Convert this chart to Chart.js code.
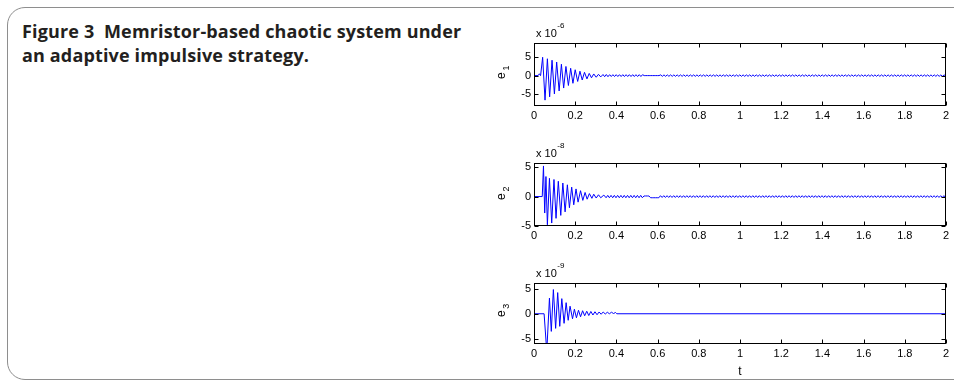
<!DOCTYPE html>
<html><head><meta charset="utf-8">
<script src="https://cdn.jsdelivr.net/npm/chart.js@4/dist/chart.umd.min.js"></script>
<style>
html,body{margin:0;padding:0;background:#fff;width:954px;height:386px;overflow:hidden;}
body{position:relative;}
#frame{position:absolute;left:7px;top:7px;width:1000px;height:373px;border:1.5px solid #8e8e8e;border-radius:18px;box-sizing:border-box;}
#cap{position:absolute;left:22px;top:19px;font:700 18px 'Open Sans';letter-spacing:0.15px;line-height:24px;color:#231f20;white-space:nowrap;}
canvas{position:absolute;}
</style></head>
<body>
<div id="frame"></div>
<div id="cap">Figure 3&nbsp;&nbsp;Memristor-based chaotic system under<br>an adaptive impulsive strategy.</div>
<canvas id="c1" width="464" height="110" style="left:490px;top:20px"></canvas>
<canvas id="c2" width="464" height="110" style="left:490px;top:140px"></canvas>
<canvas id="c3" width="464" height="126" style="left:490px;top:260px"></canvas>
<script>
// ---- data ----
const xTicks=[0,0.2,0.4,0.6,0.8,1,1.2,1.4,1.6,1.8,2];
const xTickLabels=['0','0.2','0.4','0.6','0.8','1','1.2','1.4','1.6','1.8','2'];
const yTicks=[-5,0,5];
const yTickLabels=['-5','0','5'];

// e1 (x 1e-6): turning points of the transient
const e1T=[0,0.020,0.026,0.032,0.042,0.0535,0.065,0.076,0.0876,0.099,0.110,0.122,0.133,0.144,
0.155,0.167,0.178,0.189,0.200,0.212,0.223,0.234,0.245,0.257,0.268,0.279,0.290,0.302,0.313,0.324,0.335];
const e1V=[0,0,0.5,0,5.0,-6.7,4.6,-5.8,4.2,-5.0,3.7,-4.2,3.1,-3.4,
2.5,-2.7,2.0,-2.1,1.6,-1.6,1.2,-1.2,0.9,-0.9,0.6,-0.6,0.45,-0.45,0.35,-0.35,0.3];
// e1 residual ripple, sampled every 0.008 from t=0.343
const e1TailStart=0.343, e1TailStep=0.008;
const e1Tail=[-.3,.3,-.3,.25,-.25,.25,-.25,.25,-.25,.25,-.25,.25,-.25,.25,-.25,.25,-.25,.25,-.25,.25,-.25,.25,-.25,.25,
0,0,0,0,0,0,0,0,0,0,
.2,-.2,.2,-.2,.2,-.2,.2,-.2,.2,-.2,.2,-.2,.2,-.2,.2,-.2,.2,-.2,.2,-.2,
.2,-.2,.2,-.2,.2,-.2,.2,-.2,.2,-.2,.2,-.2,.2,-.2,.2,-.2,.2,-.2,.2,-.2,
.2,-.2,.2,-.2,.2,-.2,.2,-.2,.2,-.2,.2,-.2,.2,-.2,.2,-.2,.2,-.2,.2,-.2,
.2,-.2,.2,-.2,.2,-.2,.2,-.2,.2,-.2,.2,-.2,.2,-.2,.2,-.2,.2,-.2,.2,-.2,
.2,-.2,.2,-.2,.2,-.2,.2,-.2,.2,-.2,.2,-.2,.2,-.2,.2,-.2,.2,-.2,.2,-.2,
.2,-.2,.2,-.2,.2,-.2,.2,-.2,.2,-.2,.2,-.2,.2,-.2,.2,-.2,.2,-.2,.2,-.2,
.2,-.2,.2,-.2,.2,-.2,.2,-.2,.2,-.2,.2,-.2,.2,-.2,.2,-.2,.2,-.2,.2,-.2,
.2,-.2,.2,-.2,.2,-.2,.2,-.2,.2,-.2,.2,-.2,.2,-.2,.2,-.2,.2,-.2,.2,-.2,
.2,-.2,.2,-.2,.2,-.2,.2,-.2,.2,-.2,.2,-.2,.2,-.2];

// e2 (x 1e-8)
const e2T=[0,0.040,0.046,0.052,0.058,0.065,0.075,0.086,0.097,0.107,0.118,0.130,0.140,0.151,0.162,0.172,
0.183,0.193,0.204,0.214,0.226,0.237,0.248,0.258,0.269,0.281,0.290,0.302,0.313,0.324,0.339];
const e2V=[0,0,5.2,-2.8,3.4,-4.8,3.1,-4.5,2.9,-3.7,2.6,-3.2,2.3,-2.6,2.0,-1.9,
1.6,-1.4,1.3,-0.95,1.0,-0.65,0.7,-0.45,0.5,-0.3,0.4,-0.25,0.3,-0.2,0.25];
const e2TailStart=0.35, e2TailStep=0.008;
const e2Tail=[-.2,.2,-.2,.2,-.2,.2,-.2,.2,-.2,.2,-.2,.2,-.2,.2,-.2,.2,-.2,.2,-.2,.2,-.2,.2,-.2,
.1,.1,.1,.1,
-.2,-.2,-.2,-.2,-.2,-.2,
.15,-.15,.15,-.15,.15,-.15,.15,-.15,.15,-.15,.15,-.15,.15,-.15,.15,-.15,.15,-.15,.15,-.15,
.15,-.15,.15,-.15,.15,-.15,.15,-.15,.15,-.15,.15,-.15,.15,-.15,.15,-.15,.15,-.15,.15,-.15,
.15,-.15,.15,-.15,.15,-.15,.15,-.15,.15,-.15,.15,-.15,.15,-.15,.15,-.15,.15,-.15,.15,-.15,
.15,-.15,.15,-.15,.15,-.15,.15,-.15,.15,-.15,.15,-.15,.15,-.15,.15,-.15,.15,-.15,.15,-.15,
.15,-.15,.15,-.15,.15,-.15,.15,-.15,.15,-.15,.15,-.15,.15,-.15,.15,-.15,.15,-.15,.15,-.15,
.15,-.15,.15,-.15,.15,-.15,.15,-.15,.15,-.15,.15,-.15,.15,-.15,.15,-.15,.15,-.15,.15,-.15,
.15,-.15,.15,-.15,.15,-.15,.15,-.15,.15,-.15,.15,-.15,.15,-.15,.15,-.15,.15,-.15,.15,-.15,
.15,-.15,.15,-.15,.15,-.15,.15,-.15,.15,-.15,.15,-.15,.15,-.15,.15,-.15,.15,-.15,.15,-.15,
.15,-.15,.15,-.15,.15,-.15,.15,-.15,.15,-.15,.15,-.15,.15,-.15];

// e3 (x 1e-9)
const e3T=[0,0.049,0.062,0.075,0.084,0.094,0.105,0.115,0.125,0.135,0.146,0.156,0.166,
0.175,0.187,0.196,0.206,0.216,0.226,0.236,0.246,0.256,0.266,
0.276,0.286,0.296,0.306,0.316,0.326,0.336,0.346,0.356,0.366,
0.376,0.386,0.396,0.402,2];
const e3V=[0,0,-7.5,3.1,-3.5,4.8,-2.9,4.2,-2.5,3.0,-1.9,2.2,-1.3,
1.5,-1.0,0.9,-0.8,0.7,-0.6,0.6,-0.4,0.5,-0.35,
0.45,-0.25,0.4,-0.2,0.35,-0.1,0.35,-0.05,0.3,0,
0.3,0.05,0.25,0,0];

// ---- build ----
function pts(T,V,tail,t0,dt){
  const p=T.map((t,i)=>({x:t,y:V[i]}));
  if(tail) tail.forEach((v,i)=>p.push({x:t0+i*dt,y:v}));
  return p;
}
const FONT='"Liberation Sans", Arial, sans-serif';
const boxPlugin={id:'mbox',afterDraw(c,args,o){
  const ctx=c.ctx,a=c.chartArea,x=c.scales.x,y=c.scales.y;
  ctx.save();
  ctx.strokeStyle='#000';ctx.lineWidth=1;
  const L=Math.round(a.left)+0.5,R=Math.round(a.right)-0.5,T=Math.round(a.top)+0.5,B=Math.round(a.bottom)-0.5;
  ctx.strokeRect(L,T,R-L,B-T);
  ctx.beginPath();
  xTicks.forEach(v=>{const px=Math.round(x.getPixelForValue(v))+0.5;ctx.moveTo(px,B);ctx.lineTo(px,B-4);ctx.moveTo(px,T);ctx.lineTo(px,T+4);});
  yTicks.forEach(v=>{const py=Math.round(y.getPixelForValue(v))+0.5;ctx.moveTo(L,py);ctx.lineTo(L+4,py);ctx.moveTo(R,py);ctx.lineTo(R-4,py);});
  ctx.stroke();
  ctx.fillStyle='#000';
  ctx.textAlign='left';ctx.textBaseline='alphabetic';
  ctx.font='11px '+FONT;
  ctx.fillText('x 10',a.left+2,a.top-6);
  const w=ctx.measureText('x 10').width;
  ctx.font='8px '+FONT;
  ctx.fillText(o.expo,a.left+2+w+0.5,a.top-15.5);
  // y label
  const cy=y.getPixelForValue(0);
  ctx.save();
  ctx.translate(15,cy);ctx.rotate(-Math.PI/2);
  ctx.font='12px '+FONT;ctx.textAlign='center';
  ctx.fillText('e',0,0);
  ctx.font='9px '+FONT;ctx.textAlign='left';
  ctx.fillText(o.sub,5,3.5);
  ctx.restore();
  if(o.showT){
    ctx.font='12px '+FONT;ctx.textAlign='center';ctx.textBaseline='middle';
    ctx.fillText('t',(a.left+a.right)/2,a.bottom+28);
  }
  ctx.restore();
}};
function build(id,data,ymin,ymax,xh,expo,sub,showT){
  new Chart(document.getElementById(id),{
    type:'line',
    data:{datasets:[{data:data,borderColor:'#0000ff',borderWidth:1,pointRadius:0,tension:0,clip:0,fill:false}]},
    options:{
      responsive:false,animation:false,devicePixelRatio:1,
      layout:{padding:{top:23,right:8,left:0,bottom:0}},
      plugins:{legend:{display:false},tooltip:{enabled:false},mbox:{expo:expo,sub:sub,showT:showT}},
      scales:{
        x:{type:'linear',min:0,max:2,
          afterBuildTicks:s=>{s.ticks=xTicks.map(v=>({value:v}));},
          afterFit:s=>{s.height=xh;},
          ticks:{callback:(v,i)=>xTickLabels[i],font:{family:FONT,size:11},color:'#000',padding:3,maxRotation:0,autoSkip:false},
          grid:{display:false,drawTicks:false},border:{display:false}},
        y:{type:'linear',min:ymin,max:ymax,
          afterBuildTicks:s=>{s.ticks=yTicks.map(v=>({value:v}));},
          afterFit:s=>{s.width=44;},
          ticks:{callback:(v,i)=>yTickLabels[i],font:{family:FONT,size:11},color:'#000',padding:3,autoSkip:false},
          grid:{display:false,drawTicks:false},border:{display:false}}
      }
    },
    plugins:[boxPlugin]
  });
}
build('c1',pts(e1T,e1V,e1Tail,e1TailStart,e1TailStep),-8.3,8.9,24,'-6','1',false);
build('c2',pts(e2T,e2V,e2Tail,e2TailStart,e2TailStep),-5,5.7,24,'-8','2',false);
build('c3',pts(e3T,e3V,null,0,0),-6,6.1,42,'-9','3',true);
</script>
</body></html>
